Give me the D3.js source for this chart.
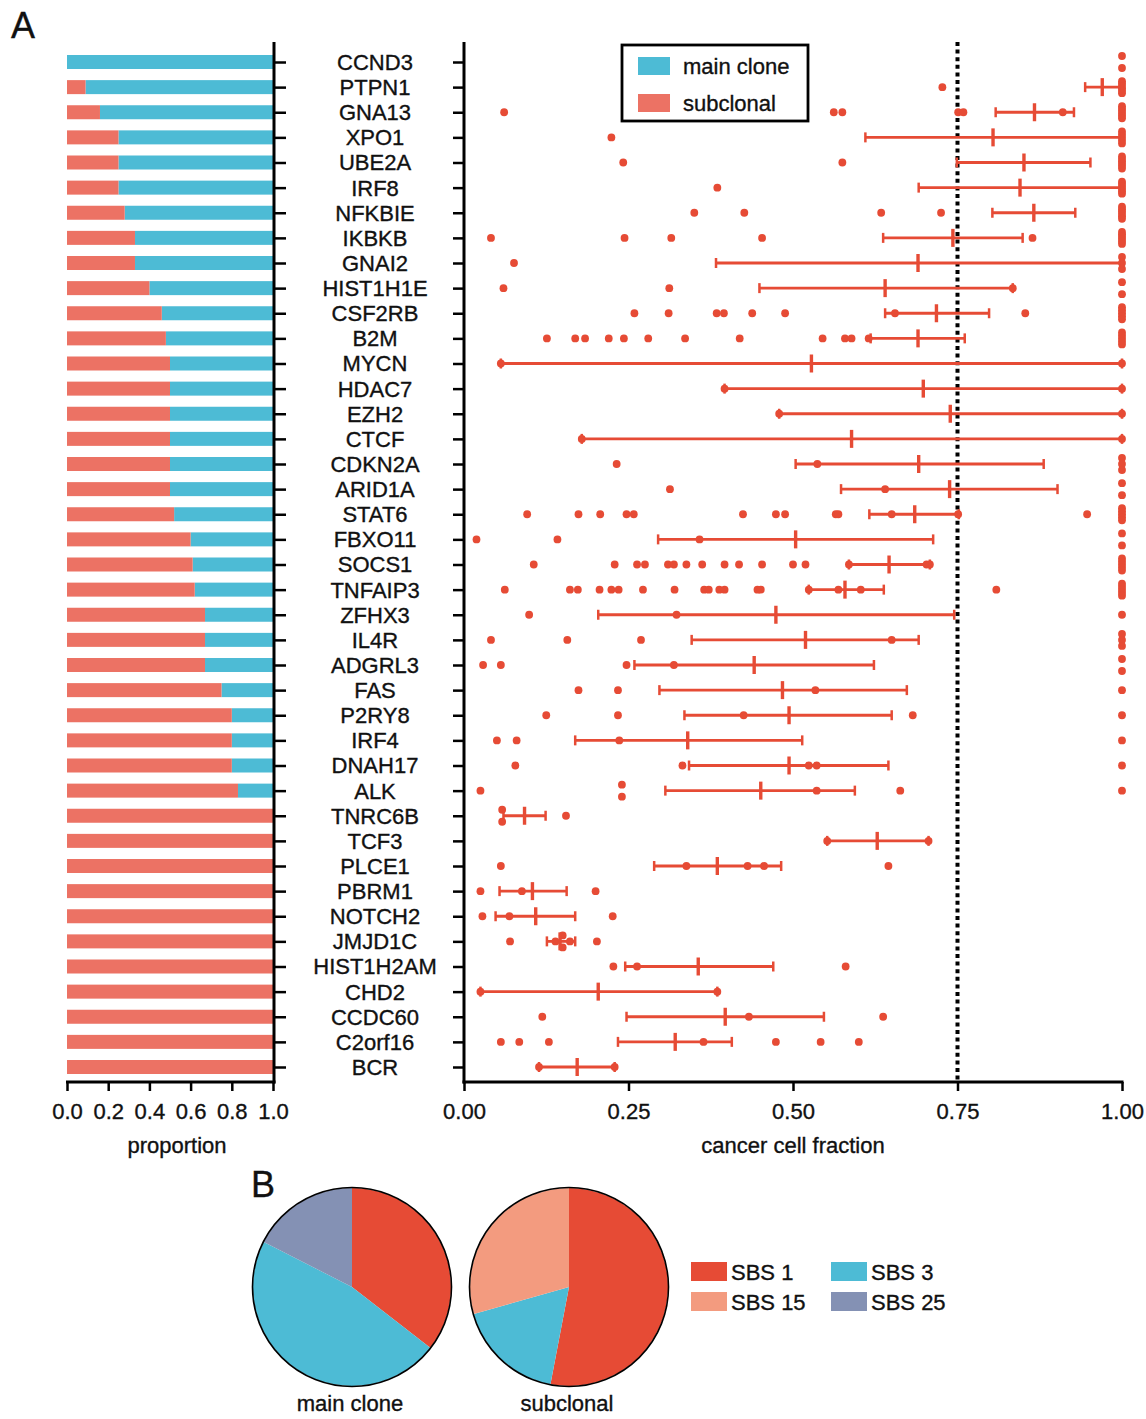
<!DOCTYPE html>
<html>
<head>
<meta charset="utf-8">
<script src="https://cdn.jsdelivr.net/npm/d3@7"></script>
<style>
  body { margin: 0; background: #fff; }
  svg { font-family: "Liberation Sans", Arial, sans-serif; }
  svg text { stroke: #111; stroke-width: 0.35px; }
</style>
</head>
<body>
<div id="chart"></div>
<script>
// genes, top to bottom
const genes = ['CCND3', 'PTPN1', 'GNA13', 'XPO1', 'UBE2A', 'IRF8', 'NFKBIE', 'IKBKB', 'GNAI2',
  'HIST1H1E', 'CSF2RB', 'B2M', 'MYCN', 'HDAC7', 'EZH2', 'CTCF', 'CDKN2A', 'ARID1A', 'STAT6',
  'FBXO11', 'SOCS1', 'TNFAIP3', 'ZFHX3', 'IL4R', 'ADGRL3', 'FAS', 'P2RY8', 'IRF4', 'DNAH17',
  'ALK', 'TNRC6B', 'TCF3', 'PLCE1', 'PBRM1', 'NOTCH2', 'JMJD1C', 'HIST1H2AM', 'CHD2', 'CCDC60',
  'C2orf16', 'BCR'];

// proportion of subclonal mutations per gene (rest = main clone)
const subclonalProp = [0, 0.09, 0.16, 0.25, 0.25, 0.25, 0.28, 0.33, 0.33,
  0.4, 0.46, 0.48, 0.5, 0.5, 0.5, 0.5, 0.5, 0.5, 0.52,
  0.6, 0.61, 0.62, 0.67, 0.67, 0.67, 0.75, 0.8, 0.8, 0.8,
  0.83, 1, 1, 1, 1, 1, 1, 1, 1, 1, 1, 1];

// cancer cell fraction of each mutation, per gene
const ccfPoints = [
  [1, 1],
  [0.727, 1, 1, 1, 1, 1, 1],
  [0.061, 0.562, 0.575, 0.751, 0.759, 0.910, 1, 1, 1, 1, 1, 1],
  [0.224, 1, 1, 1, 1, 1],
  [0.242, 0.575, 1, 1, 1, 1, 1, 1],
  [0.385, 1, 1, 1, 1, 1, 1],
  [0.350, 0.426, 0.634, 0.725, 1, 1, 1, 1, 1, 1],
  [0.041, 0.244, 0.315, 0.453, 0.864, 1, 1, 1, 1, 1, 1],
  [0.076, 1, 1, 1],
  [0.060, 0.312, 0.834, 1, 1],
  [0.259, 0.311, 0.384, 0.395, 0.438, 0.488, 0.655, 0.853, 1, 1, 1, 1, 1],
  [0.126, 0.169, 0.184, 0.220, 0.243, 0.280, 0.336, 0.419, 0.545, 0.579, 0.589, 0.615, 1, 1, 1, 1, 1],
  [0.056, 1],
  [0.396, 1],
  [0.479, 1],
  [0.179, 1],
  [0.232, 0.537, 1, 1, 1],
  [0.313, 0.640, 1, 1],
  [0.096, 0.174, 0.207, 0.247, 0.258, 0.424, 0.474, 0.488, 0.565, 0.569, 0.650, 0.751, 0.947, 1, 1, 1, 1, 1],
  [0.019, 0.142, 0.358, 1, 1],
  [0.106, 0.229, 0.263, 0.275, 0.310, 0.319, 0.338, 0.362, 0.396, 0.418, 0.453, 0.500, 0.519, 0.585, 0.703, 0.708, 1, 1, 1, 1, 1],
  [0.062, 0.161, 0.173, 0.206, 0.224, 0.235, 0.272, 0.320, 0.365, 0.372, 0.388, 0.396, 0.446, 0.451, 0.524, 0.569, 0.603, 0.809, 1, 1, 1, 1, 1],
  [0.099, 0.323, 1],
  [0.041, 0.157, 0.269, 0.650, 1, 1, 1],
  [0.029, 0.056, 0.247, 0.319, 1, 1],
  [0.174, 0.234, 0.534, 1],
  [0.125, 0.234, 0.425, 0.682, 1],
  [0.050, 0.080, 0.236, 1],
  [0.078, 0.332, 0.524, 0.536, 1],
  [0.025, 0.240, 0.240, 0.536, 0.663, 1],
  [0.058, 0.058, 0.155],
  [0.552, 0.706],
  [0.056, 0.338, 0.431, 0.456, 0.645],
  [0.025, 0.088, 0.200],
  [0.028, 0.069, 0.226],
  [0.070, 0.139, 0.150, 0.150, 0.161, 0.202],
  [0.227, 0.263, 0.580],
  [0.025, 0.385],
  [0.119, 0.433, 0.637],
  [0.056, 0.084, 0.129, 0.364, 0.474, 0.542, 0.600],
  [0.114, 0.229]
];

// median and interquartile range per gene (null = no bar drawn)
const ccfMedian = [null, 0.970, 0.867, 0.804, 0.851, 0.845, 0.866, 0.743, 0.690,
  0.640, 0.718, 0.690, 0.528, 0.698, 0.739, 0.589, 0.691, 0.738, 0.685,
  0.504, 0.646, 0.579, 0.474, 0.519, 0.441, 0.484, 0.494, 0.340, 0.494,
  0.451, 0.092, 0.628, 0.385, 0.104, 0.109, 0.146, 0.356, 0.204, 0.397, 0.321, 0.172];
const ccfLow = [null, 0.944, 0.808, 0.610, 0.749, 0.691, 0.803, 0.637, 0.383,
  0.449, 0.640, 0.618, 0.056, 0.396, 0.479, 0.179, 0.504, 0.573, 0.616,
  0.295, 0.585, 0.524, 0.204, 0.346, 0.259, 0.297, 0.335, 0.169, 0.342,
  0.306, 0.060, 0.552, 0.289, 0.054, 0.048, 0.126, 0.245, 0.025, 0.247, 0.234, 0.114];
const ccfHigh = [null, 1, 0.927, 1, 0.952, 1, 0.929, 0.849, 1,
  0.834, 0.798, 0.761, 1, 1, 1, 1, 0.881, 0.902, 0.752,
  0.713, 0.708, 0.638, 0.745, 0.691, 0.623, 0.673, 0.650, 0.514, 0.645,
  0.594, 0.124, 0.706, 0.482, 0.156, 0.169, 0.169, 0.470, 0.385, 0.547, 0.407, 0.229];

const propTicks = [0, 0.2, 0.4, 0.6, 0.8, 1.0];
const ccfTicks = [0, 0.25, 0.5, 0.75, 1.0];
const ccfThreshold = 0.75;

// mutational signatures (panel B)
const sigNames = ['SBS 1', 'SBS 3', 'SBS 15', 'SBS 25'];
const sigColors = ['#E64B35', '#4DBBD5', '#F39B7F', '#8491B4'];
const mainCloneShare = [0.355, 0.47, 0, 0.175];
const subclonalShare = [0.53, 0.176, 0.294, 0];

const colMain = '#4DBBD5';
const colSub = '#EC7264';
const colDot = '#E64B35';

const width = 1146, height = 1419;
const svg = d3.select('#chart').append('svg')
  .attr('width', width)
  .attr('height', height);

const yTop = 42, yBottom = 1082;
const y = d3.scalePoint().domain(genes).range([62, 1067]);
const xProp = d3.scaleLinear().domain([0, 1]).range([67, 273]);
const xCcf = d3.scaleLinear().domain([0, 1]).range([464, 1122]);

// panel labels
svg.append('text').attr('x', 11).attr('y', 38).text('A')
  .attr('font-size', 36).attr('fill', '#111');
svg.append('text').attr('x', 251).attr('y', 1197).text('B')
  .attr('font-size', 36).attr('fill', '#111');

// ---- left: stacked proportion bars
const barH = 14;
const bars = svg.append('g');
genes.forEach((g, i) => {
  const p = subclonalProp[i];
  bars.append('rect')
    .attr('x', xProp(p)).attr('y', y(g) - barH / 2)
    .attr('width', xProp(1) - xProp(p)).attr('height', barH)
    .attr('fill', colMain);
  bars.append('rect')
    .attr('x', xProp(0)).attr('y', y(g) - barH / 2)
    .attr('width', xProp(p) - xProp(0)).attr('height', barH)
    .attr('fill', colSub);
});

function styleAxis(g) {
  g.select('.domain').remove();
  g.selectAll('.tick line').attr('stroke', '#000').attr('stroke-width', 2.5);
  g.selectAll('.tick text').attr('font-size', 22).attr('fill', '#111')
    .attr('font-family', '"Liberation Sans", Arial, sans-serif');
}

// gene axis (left panel, ticks to the right)
svg.append('g')
  .attr('transform', `translate(${xProp(1) + 1},0)`)
  .call(d3.axisRight(y).tickSize(12).tickFormat(''))
  .call(styleAxis);
svg.append('line')
  .attr('x1', xProp(1) + 1).attr('x2', xProp(1) + 1)
  .attr('y1', yTop).attr('y2', yBottom + 1.5)
  .attr('stroke', '#000').attr('stroke-width', 3);

// bottom axis of proportion
svg.append('g')
  .attr('transform', `translate(0,${yBottom})`)
  .call(d3.axisBottom(xProp).tickValues(propTicks).tickSize(9).tickPadding(12)
    .tickFormat(d3.format('.1f')))
  .call(styleAxis);
svg.append('line')
  .attr('x1', xProp(0) - 1).attr('x2', xProp(1) + 2.5)
  .attr('y1', yBottom).attr('y2', yBottom)
  .attr('stroke', '#000').attr('stroke-width', 3);
svg.append('text')
  .attr('x', (xProp(0) + xProp(1)) / 2 + 7).attr('y', 1153)
  .attr('text-anchor', 'middle').attr('font-size', 22).attr('fill', '#111')
  .text('proportion');

// gene names
svg.append('g').selectAll('text')
  .data(genes)
  .join('text')
  .attr('x', 375)
  .attr('y', d => y(d))
  .attr('dy', '0.36em')
  .attr('text-anchor', 'middle')
  .attr('font-size', 22)
  .attr('fill', '#111')
  .text(d => d);

// ---- right: cancer cell fraction
svg.append('g')
  .attr('transform', `translate(${xCcf(0)},0)`)
  .call(d3.axisLeft(y).tickSize(11).tickFormat(''))
  .call(styleAxis);
svg.append('line')
  .attr('x1', xCcf(0)).attr('x2', xCcf(0))
  .attr('y1', yTop).attr('y2', yBottom + 1.5)
  .attr('stroke', '#000').attr('stroke-width', 3);

svg.append('g')
  .attr('transform', `translate(0,${yBottom})`)
  .call(d3.axisBottom(xCcf).tickValues(ccfTicks).tickSize(9).tickPadding(12)
    .tickFormat(d3.format('.2f')))
  .call(styleAxis);
svg.append('line')
  .attr('x1', xCcf(0) - 1.5).attr('x2', xCcf(1) + 1.5)
  .attr('y1', yBottom).attr('y2', yBottom)
  .attr('stroke', '#000').attr('stroke-width', 3);
svg.append('text')
  .attr('x', xCcf(0.5)).attr('y', 1153)
  .attr('text-anchor', 'middle').attr('font-size', 22).attr('fill', '#111')
  .text('cancer cell fraction');

// threshold line
svg.append('line')
  .attr('x1', xCcf(ccfThreshold)).attr('x2', xCcf(ccfThreshold))
  .attr('y1', yTop).attr('y2', yBottom)
  .attr('stroke', '#000').attr('stroke-width', 4)
  .attr('stroke-dasharray', '4,3.6');

// points: identical values in a row are spread vertically
const dots = svg.append('g');
genes.forEach((g, i) => {
  const groups = d3.group(ccfPoints[i], v => v);
  groups.forEach((vals, v) => {
    const n = vals.length;
    const span = n > 1 ? 12 : 0;
    vals.forEach((_, k) => {
      const off = n > 1 ? -span / 2 + k * span / (n - 1) : 0;
      dots.append('circle')
        .attr('cx', xCcf(v)).attr('cy', y(g) + off)
        .attr('r', 3.9).attr('fill', colDot);
    });
  });
});

// median + IQR bars
const stats = svg.append('g').attr('stroke', colDot);
genes.forEach((g, i) => {
  if (ccfMedian[i] === null) return;
  const cy = y(g);
  stats.append('line')
    .attr('x1', xCcf(ccfLow[i])).attr('x2', xCcf(ccfHigh[i]))
    .attr('y1', cy).attr('y2', cy).attr('stroke-width', 2.8);
  [ccfLow[i], ccfHigh[i]].forEach(v => {
    stats.append('line')
      .attr('x1', xCcf(v)).attr('x2', xCcf(v))
      .attr('y1', cy - 5).attr('y2', cy + 5).attr('stroke-width', 2.5);
  });
  stats.append('line')
    .attr('x1', xCcf(ccfMedian[i])).attr('x2', xCcf(ccfMedian[i]))
    .attr('y1', cy - 9).attr('y2', cy + 9).attr('stroke-width', 3.4);
});

// legend
const leg = svg.append('g');
leg.append('rect')
  .attr('x', 622).attr('y', 45).attr('width', 186).attr('height', 76)
  .attr('fill', '#fff').attr('stroke', '#000').attr('stroke-width', 2.8);
[['main clone', colMain], ['subclonal', colSub]].forEach(([label, c], k) => {
  leg.append('rect')
    .attr('x', 638).attr('y', 57 + k * 37).attr('width', 32).attr('height', 18)
    .attr('fill', c);
  leg.append('text')
    .attr('x', 683).attr('y', 66 + k * 37).attr('dy', '0.36em')
    .attr('font-size', 22).attr('fill', '#111').text(label);
});

// ---- panel B: pies
const pie = d3.pie().sort(null).value(d => d.v);
const arc = d3.arc().innerRadius(0).outerRadius(99);
const pies = [
  { label: 'main clone', share: mainCloneShare, cx: 352, cy: 1287 },
  { label: 'subclonal', share: subclonalShare, cx: 569, cy: 1287 }
];
pies.forEach(p => {
  const data = sigNames.map((s, k) => ({ s, v: p.share[k], c: sigColors[k] }));
  const g = svg.append('g').attr('transform', `translate(${p.cx},${p.cy})`);
  g.selectAll('path')
    .data(pie(data))
    .join('path')
    .attr('d', arc)
    .attr('fill', d => d.data.c);
  g.append('circle').attr('r', 99.5)
    .attr('fill', 'none').attr('stroke', '#000').attr('stroke-width', 1.6);
  svg.append('text')
    .attr('x', p.cx - 2).attr('y', 1411)
    .attr('text-anchor', 'middle').attr('font-size', 22).attr('fill', '#111')
    .text(p.label);
});

// signature legend, two columns
const sigLeg = svg.append('g');
[0, 2, 1, 3].forEach((k, pos) => {
  const col = pos < 2 ? 0 : 1;
  const row = pos % 2;
  const lx = 691 + col * 140;
  const ly = 1262 + row * 30;
  sigLeg.append('rect')
    .attr('x', lx).attr('y', ly).attr('width', 36).attr('height', 19)
    .attr('fill', sigColors[k]);
  sigLeg.append('text')
    .attr('x', lx + 40).attr('y', ly + 10).attr('dy', '0.36em')
    .attr('font-size', 22).attr('fill', '#111').text(sigNames[k]);
});
</script>
</body>
</html>
